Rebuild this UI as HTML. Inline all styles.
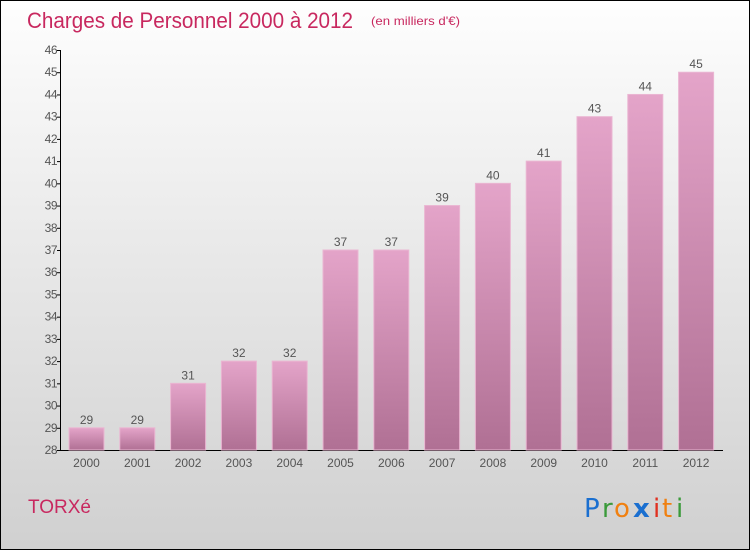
<!DOCTYPE html>
<html><head><meta charset="utf-8"><style>
body{margin:0}
#c{width:748px;height:548px;border:1px solid #000;background:linear-gradient(#fefefe,#f0f0f0 30%,#d0d0d0);position:relative;overflow:hidden;font-family:"Liberation Sans",sans-serif}
</style></head><body>
<div id="c">
<svg width="748" height="548" style="position:absolute;left:0;top:0" id="s" font-family="Liberation Sans, sans-serif">
<defs><linearGradient id="g" x1="0" y1="0" x2="0" y2="1"><stop offset="0" stop-color="#e4a4c9"/><stop offset="1" stop-color="#b07094"/></linearGradient></defs>
<text x="26" y="27" font-size="22" fill="#c8285f" textLength="326" lengthAdjust="spacingAndGlyphs">Charges de Personnel 2000 à 2012</text>
<text x="370" y="24" font-size="12" fill="#c8285f" textLength="89" lengthAdjust="spacingAndGlyphs">(en milliers d'€)</text>
<text x="27" y="512" font-size="19" fill="#c8285f">TORXé</text>
<g font-size="26" font-family="DejaVu Sans">
<text x="583" y="516" fill="#1a6fd0">P</text><text x="601" y="516" fill="#3a9a3a">r</text><text x="613" y="516" fill="#f08010">o</text><text x="632" y="516" fill="#1a6fd0" font-weight="bold">x</text><text x="652" y="516" fill="#e03020">i</text><text x="661" y="516" fill="#f08010">t</text><text x="675" y="516" fill="#3a9a3a">i</text>
</g>
<g id="plot"></g>
</svg>
</div>
<script>
const years=["2000","2001","2002","2003","2004","2005","2006","2007","2008","2009","2010","2011","2012"];
const values=[29,29,31,32,32,37,37,39,40,41,43,44,45];
const ticks=[28,29,30,31,32,33,34,35,36,37,38,39,40,41,42,43,44,45,46];
const ns="http://www.w3.org/2000/svg";
const g=document.getElementById('plot');
const y=v=>449-(v-28)*(400/18);
const x=i=>85.5+i*50.8;
function mk(t,a,txt){const e=document.createElementNS(ns,t);for(const k in a)e.setAttribute(k,a[k]);if(txt!==undefined)e.textContent=txt;g.appendChild(e);return e;}
let ax=mk('line',{x1:59.5,y1:49,x2:59.5,y2:449.5,stroke:'#000'});


let xx=mk('line',{x1:59.5,y1:449.5,x2:722,y2:449.5,stroke:'#000'});


ticks.forEach(t=>{
 mk('line',{x1:56,x2:60,y1:y(t)+.5,y2:y(t)+.5,stroke:'#000'});
 const l=mk('text',{x:56,y:y(t)+4,'font-size':12,fill:'#555','text-anchor':'end','letter-spacing':'-0.5'},t);
 
 
});
years.forEach((yr,i)=>{
 const v=values[i];
 const b=mk('rect',{x:x(i)-17.5,y:y(v),width:35,height:449-y(v),fill:'url(#g)',stroke:'#eab6d2','stroke-width':1});
 
 
 const vl=mk('text',{x:x(i),y:y(v)-4,'font-size':12,fill:'#555','text-anchor':'middle'},v);
 
 
 const xl=mk('text',{x:x(i),y:466,'font-size':12,fill:'#555','text-anchor':'middle'},yr);
 
 
});
</script>
</body></html>
